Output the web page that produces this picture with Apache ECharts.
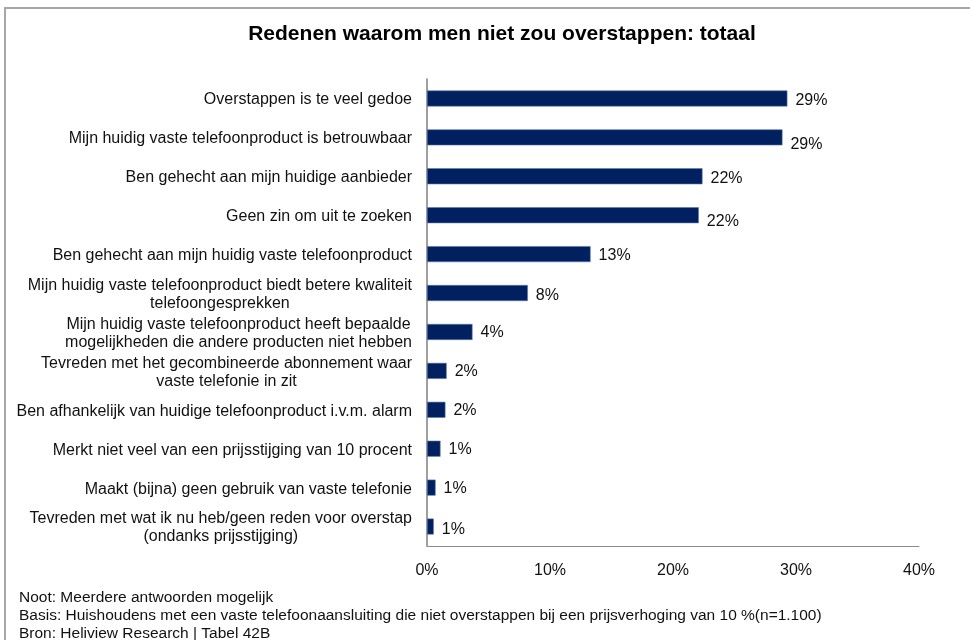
<!DOCTYPE html>
<html>
<head>
<meta charset="utf-8">
<script src="https://cdn.jsdelivr.net/npm/echarts@6/dist/echarts.min.js"></script>
<style>
  html, body { margin: 0; padding: 0; background: #fff; }
  #chart { width: 970px; height: 640px; }
</style>
</head>
<body>
<div id="chart"></div>
<script>
// Reasons for not switching provider (percent of respondents)
const reasons = [
  'Overstappen is te veel gedoe',
  'Mijn huidig vaste telefoonproduct is betrouwbaar',
  'Ben gehecht aan mijn huidige aanbieder',
  'Geen zin om uit te zoeken',
  'Ben gehecht aan mijn huidig vaste telefoonproduct',
  'Mijn huidig vaste telefoonproduct biedt betere kwaliteit\ntelefoongesprekken',
  'Mijn huidig vaste telefoonproduct heeft bepaalde\nmogelijkheden die andere producten niet hebben',
  'Tevreden met het gecombineerde abonnement waar\nvaste telefonie in zit',
  'Ben afhankelijk van huidige telefoonproduct i.v.m. alarm',
  'Merkt niet veel van een prijsstijging van 10 procent',
  'Maakt (bijna) geen gebruik van vaste telefonie',
  'Tevreden met wat ik nu heb/geen reden voor overstap\n(ondanks prijsstijging)'
];
const shares = [29.3, 28.9, 22.4, 22.1, 13.3, 8.2, 3.7, 1.6, 1.5, 1.1, 0.7, 0.55];
const axisTicks = [0, 10, 20, 30, 40];

// small vertical nudges for a few value labels
const labelNudge = [2, 7, 2, 6, 1, 3, 1, 1, 1, 1, 1, 3];

const titleText = 'Redenen waarom men niet zou overstappen: totaal';
const notes = [
  'Noot: Meerdere antwoorden mogelijk',
  'Basis: Huishoudens met een vaste telefoonaansluiting die niet overstappen bij een prijsverhoging van 10 %(n=1.100)',
  'Bron: Heliview Research | Tabel 42B'
];

const FONT = '"Liberation Sans", Arial, sans-serif';
const chart = echarts.init(document.getElementById('chart'), null, { renderer: 'canvas' });

chart.setOption({
  backgroundColor: '#ffffff',
  animation: false,
  title: {
    text: titleText,
    left: 497,
    textAlign: 'center',
    top: 19,
    textStyle: { fontFamily: FONT, fontSize: 21, fontWeight: 'bold', color: '#000' }
  },
  grid: { left: 427, right: 51, top: 79, bottom: 94, containLabel: false },
  xAxis: {
    type: 'value',
    min: axisTicks[0],
    max: axisTicks[axisTicks.length - 1],
    interval: axisTicks[1] - axisTicks[0],
    axisLine: { show: true, lineStyle: { color: '#8c8c8c', width: 1 } },
    axisTick: { show: false },
    splitLine: { show: false },
    axisLabel: {
      margin: 17,
      formatter: '{value}%',
      fontFamily: FONT, fontSize: 16, color: '#111'
    }
  },
  yAxis: {
    type: 'category',
    inverse: true,
    data: reasons,
    axisLine: { show: true, lineStyle: { color: '#7f7f7f', width: 1.5 } },
    axisTick: { show: false },
    axisLabel: {
      margin: 15,
      fontFamily: FONT, fontSize: 16, color: '#111', lineHeight: 18,
      formatter: function (v) {
        return v.split('\n').map(function (l) { return '{c|' + l + '}'; }).join('\n');
      },
      rich: { c: { align: 'center', fontFamily: FONT, fontSize: 16, color: '#111', lineHeight: 18, padding: [3, 0, 0, 0] } }
    }
  },
  series: [{
    type: 'bar',
    barWidth: 16,
    data: shares.map(function (v, i) {
      return { value: v, label: { offset: [0, labelNudge[i]] } };
    }),
    itemStyle: { color: '#002060', borderColor: '#5f79ad', borderWidth: 0.6 },
    label: {
      show: true,
      position: 'right',
      distance: 8,
      fontFamily: FONT, fontSize: 16, color: '#111',
      formatter: function (p) { return Math.round(p.value) + '%'; }
    }
  }],
  graphic: [
    {
      type: 'polyline',
      shape: { points: [[5, 660], [5, 8], [980, 8]] },
      style: { stroke: '#a6a6a6', lineWidth: 2, fill: null },
      silent: true
    },
    {
      type: 'text',
      left: 19,
      top: 589,
      style: {
        text: notes.join('\n'),
        fontFamily: FONT, fontSize: 15.5, lineHeight: 18, fill: '#111'
      }
    }
  ]
});
</script>
</body>
</html>
